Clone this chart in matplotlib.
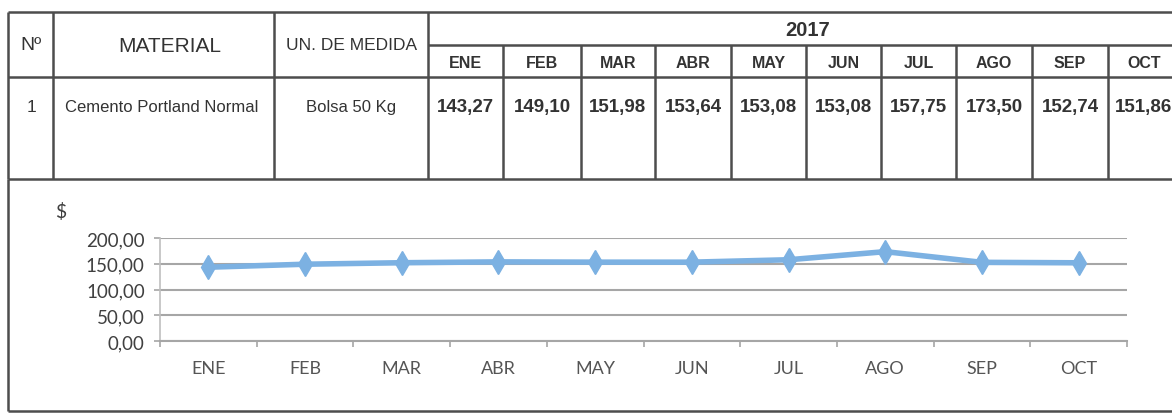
import matplotlib
matplotlib.use("Agg")
import matplotlib.pyplot as plt
from matplotlib.ticker import FuncFormatter, FixedLocator
import numpy as np

# data
months = ["ENE", "FEB", "MAR", "ABR", "MAY", "JUN", "JUL", "AGO", "SEP", "OCT"]
prices = [143.27, 149.10, 151.98, 153.64, 153.08, 153.08, 157.75, 173.50, 152.74, 151.86]
year = "2017"
item_no = "1"
material = "Cemento Portland Normal"
unit = "Bolsa 50 Kg"
y_ticks = [0, 50, 100, 150, 200]

W, H = 1172, 414
fig = plt.figure(figsize=(W / 100, H / 100), dpi=100)
fig.patch.set_facecolor("white")

# ---- table drawn on a pixel-space overlay axes ----
tab = fig.add_axes([0, 0, 1, 1])
tab.set_xlim(0, W)
tab.set_ylim(H, 0)
tab.axis("off")

line_kw = dict(color="#4d4d4d", lw=1.8, solid_capstyle="butt")
top, sub, head_bot, row_bot, box_bot = 13, 46, 78, 180, 412
col_x = [8, 53, 274, 428]
month_x = [428, 503, 581, 655, 731, 806, 881, 956, 1032, 1108, 1180]

tab.plot([col_x[0], W], [top, top], **line_kw)
tab.plot([col_x[3], W], [sub, sub], **line_kw)
tab.plot([col_x[0], W], [head_bot, head_bot], **line_kw)
tab.plot([col_x[0], W], [row_bot, row_bot], **line_kw)
for x in col_x:
    tab.plot([x, x], [top, row_bot], **line_kw)
for x in month_x[1:]:
    tab.plot([x, x], [sub, row_bot], **line_kw)
# chart frame below the table
tab.plot([col_x[0], col_x[0]], [row_bot, box_bot], **line_kw)
tab.plot([col_x[0], W], [box_bot, box_bot], **line_kw)

tf = "Liberation Sans"
tc = "#333333"
tab.text(31, 46, "Nº", ha="center", va="center", fontsize=14, family=tf, color=tc)
tab.text(170, 46, "MATERIAL", ha="center", va="center", fontsize=15, family=tf, color=tc)
tab.text(352, 46, "UN. DE MEDIDA", ha="center", va="center", fontsize=12.5, family=tf, color=tc)
tab.text(808, 30, year, ha="center", va="center", fontsize=14.5, family=tf,
         fontweight="bold", color=tc)
tab.text(31, 108, item_no, ha="center", va="center", fontsize=12.5, family=tf, color=tc)
tab.text(162, 108, material, ha="center", va="center", fontsize=12, family=tf, color=tc)
tab.text(351, 108, unit, ha="center", va="center", fontsize=12, family=tf, color=tc)
for i, (m, p) in enumerate(zip(months, prices)):
    cx = (month_x[i] + month_x[i + 1]) / 2
    tab.text(cx, 63, m, ha="center", va="center", fontsize=11.5, family=tf,
             fontweight="bold", color=tc)
    tab.text(cx, 108, f"{p:.2f}".replace(".", ","), ha="center", va="center",
             fontsize=13.5, family=tf, fontweight="bold", color=tc)

# ---- line chart ----
left, right, y0, y200 = 160, 1127, 342, 239
ax = fig.add_axes([left / W, (H - y0) / H, (right - left) / W, (y0 - y200) / H])
ax.set_facecolor("none")
x = np.arange(len(months))
ax.plot(x, prices, color="#7cb1e2", lw=4, marker="d", markersize=12,
        markeredgecolor="#7cb1e2", zorder=3)
ax.set_xlim(-0.5, len(months) - 0.5)
ax.set_ylim(0, 200)
ax.yaxis.set_major_locator(FixedLocator(y_ticks))
ax.yaxis.set_major_formatter(FuncFormatter(lambda v, p: f"{v:.2f}".replace(".", ",")))
ax.grid(axis="y", color="#a6a6a6", lw=1.5)
ax.set_axisbelow(True)

ax.xaxis.set_major_locator(FixedLocator(np.arange(-0.5, len(months), 1.0)))
ax.xaxis.set_major_formatter(FuncFormatter(lambda v, p: ""))
ax.xaxis.set_minor_locator(FixedLocator(x))
ax.set_xticklabels(months, minor=True)
ax.tick_params(axis="x", which="major", length=4, color="#a6a6a6", width=1.2)
ax.tick_params(axis="x", which="minor", length=0, pad=14, labelsize=13,
               labelcolor="#555555")
ax.tick_params(axis="y", length=4, color="#a6a6a6", width=1.2, pad=7,
               labelsize=13.5, labelcolor="#404040")
for lab in ax.get_xticklabels(minor=True) + ax.get_yticklabels():
    lab.set_family("Lato")
for s in ["top", "right"]:
    ax.spines[s].set_visible(False)
ax.spines["left"].set_color("#bfbfbf")
ax.spines["bottom"].set_color("#a6a6a6")
ax.spines["left"].set_linewidth(1.2)
ax.spines["bottom"].set_linewidth(1.5)

tab.text(61, 212, "$", ha="center", va="center", fontsize=14, family="Lato",
         color="#404040")

fig.savefig("out.png", dpi=100, facecolor="white")
